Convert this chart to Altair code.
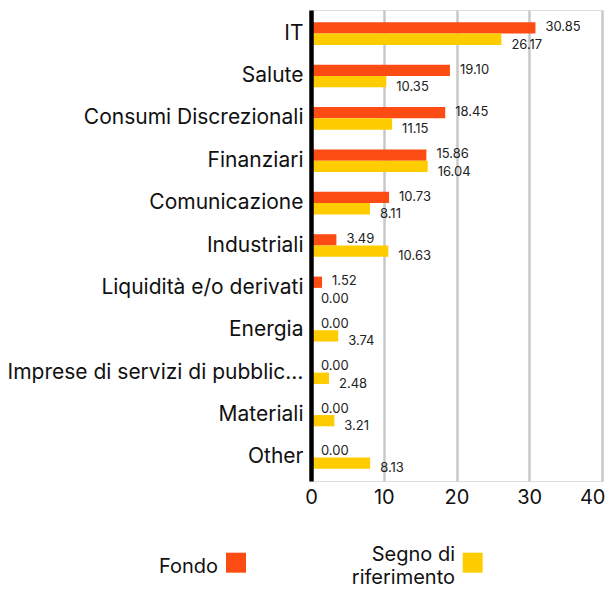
import altair as alt
import pandas as pd

categories = ["IT", "Salute", "Consumi Discrezionali", "Finanziari", "Comunicazione",
              "Industriali", "Liquidità e/o derivati", "Energia",
              "Imprese di servizi di pubblic…", "Materiali", "Other"]
fondo = [30.85, 19.10, 18.45, 15.86, 10.73, 3.49, 1.52, 0.00, 0.00, 0.00, 0.00]
riferimento = [26.17, 10.35, 11.15, 16.04, 8.11, 10.63, 0.00, 3.74, 2.48, 3.21, 8.13]
series = ["Fondo", "Segno di riferimento"]
colors = ["#FC4C14", "#FFCC00"]
x_ticks = [0, 10, 20, 30, 40]

rows = []
for c, f, r in zip(categories, fondo, riferimento):
    rows.append({"category": c, "series": series[0], "value": f, "label": f"{f:.2f}"})
    rows.append({"category": c, "series": series[1], "value": r, "label": f"{r:.2f}"})
df = pd.DataFrame(rows)

FONT = "Inter"

y_enc = alt.Y("category:N", sort=categories, title=None,
              scale=alt.Scale(paddingInner=0.467, paddingOuter=0.29),
              axis=alt.Axis(domain=True, domainColor="#000000", domainWidth=4.5,
                            ticks=False, tickSize=0, labelFontSize=21, labelFont=FONT,
                            labelColor="#111111", labelPadding=8, labelLimit=400,
                            grid=False, zindex=1))
x_enc = alt.X("value:Q", title=None,
              scale=alt.Scale(domain=[0, 40], nice=False),
              axis=alt.Axis(values=x_ticks, domain=False, ticks=False, tickSize=0,
                            grid=True, gridColor="#c8c8c8", gridWidth=2.5,
                            labelFontSize=20, labelFont=FONT, labelColor="#111111",
                            labelPadding=6, labelFlush=False, labelOverlap=False,
                            labelAlign=alt.condition("datum.value == 40",
                                                     alt.value("right"), alt.value("center")),
                            labelOffset=alt.condition("datum.value == 40",
                                                      alt.value(3), alt.value(0)),
                            format="d"))
yoff = alt.YOffset("series:N", sort=series,
                   scale=alt.Scale(paddingInner=0, paddingOuter=0))

base = alt.Chart(df)
bars = base.mark_bar().encode(
    y=y_enc, x=x_enc, yOffset=yoff,
    color=alt.Color("series:N", scale=alt.Scale(domain=series, range=colors), legend=None),
)
txt_f = base.transform_filter(alt.datum.series == series[0]).mark_text(
    align="left", baseline="alphabetic", dx=10, dy=3.2, fontSize=13, font=FONT,
    color="#222222").encode(y=alt.Y("category:N", sort=categories), x="value:Q",
                            yOffset=alt.YOffset("series:N", sort=series), text="label:N")
txt_r = base.transform_filter(alt.datum.series == series[1]).mark_text(
    align="left", baseline="alphabetic", dx=10, dy=9.3, fontSize=13, font=FONT,
    color="#222222").encode(y=alt.Y("category:N", sort=categories), x="value:Q",
                            yOffset=alt.YOffset("series:N", sort=series), text="label:N")

# custom legend (text first, then square)
LEG_SHIFT = -8
leg_df = pd.DataFrame({"t": [series[0]]})
leg1_text = alt.Chart(leg_df).mark_text(align="right", baseline="alphabetic", fontSize=20,
                                        font=FONT, color="#111111").encode(
    x=alt.value(-93), y=alt.value(571.3 + LEG_SHIFT), text=alt.value("Fondo"))
leg1_sq = alt.Chart(leg_df).mark_square(size=400, opacity=1, color=colors[0]).encode(
    x=alt.value(-75), y=alt.value(560.7 + LEG_SHIFT))
leg2_text = alt.Chart(leg_df).mark_text(align="right", baseline="alphabetic", fontSize=20,
                                        font=FONT, color="#111111", lineHeight=23.6).encode(
    x=alt.value(144), y=alt.value(558.7 + LEG_SHIFT), text=alt.value(["Segno di", "riferimento"]))
leg2_sq = alt.Chart(leg_df).mark_square(size=400, opacity=1, color=colors[1]).encode(
    x=alt.value(161.7), y=alt.value(560.7 + LEG_SHIFT))

chart = alt.layer(bars, txt_f, txt_r, leg1_text, leg1_sq, leg2_text, leg2_sq).properties(
    width=291, height=471,
    autosize=alt.AutoSizeParams(type="none"),
    padding={"left": 303, "top": 2, "right": 4, "bottom": 109},
).configure_view(stroke=None).configure(background="white")

chart.save("out.html", embed_options={"renderer": "svg", "actions": False})
